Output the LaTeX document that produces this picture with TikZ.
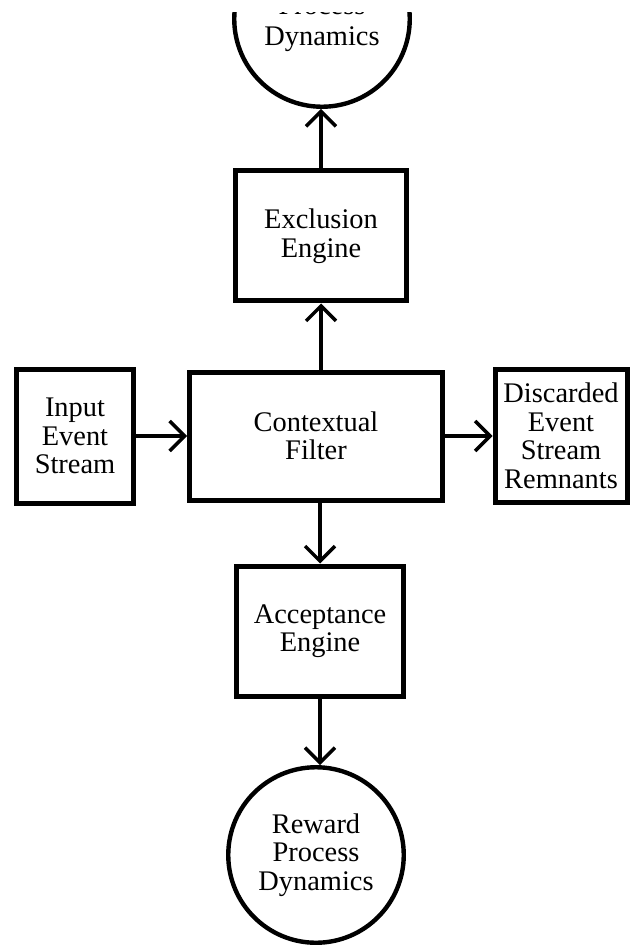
\documentclass[tikz,border=0pt]{standalone}
\usepackage{fontspec}
\setmainfont{Liberation Serif}
\usetikzlibrary{arrows.meta}

\begin{document}
\begin{tikzpicture}[x=0.5pt,y=-0.5pt,
	>={Straight Barb[length=7.5pt,width=15pt]},
	block/.style={draw,line width=2.5pt,inner sep=0pt,align=center,font=\fontsize{14.2}{14.25}\selectfont},
	proc/.style={draw,circle,line width=2.2pt,inner sep=0pt,minimum size=87.75pt,align=center,font=\fontsize{14.2}{14.25}\selectfont},
	flow/.style={->,line width=1.75pt}]
	\useasboundingbox (0,0) rectangle (632,946);
	
	\node [block,minimum width=85.5pt,minimum height=65pt](EXCL) at (321,236) {Exclusion\\Engine};
	\node [block,minimum width=126.5pt,minimum height=64pt](FILTER) at (316,436) {Contextual\\Filter};
	\node [block,minimum width=58.5pt,minimum height=67pt](INPUT) at (75,436) {Input\\Event\\Stream};
	\node [block,minimum width=66pt,minimum height=66.5pt](DISCARD) at (561,436) {Discarded\\Event\\Stream\\Remnants};
	\node [block,minimum width=83.5pt,minimum height=65pt](ACCEPT) at (320,631) {Acceptance\\Engine};
	\node [proc](REWARD) at (316,855) {Reward\\Process\\Dynamics};
	
	\begin{scope}
		\clip (0,13) rectangle (632,946);
		\node [proc](TOPPROC) at (322,19) {\mbox{}\\Process\\[1pt]Dynamics};
	\end{scope}
	
	\draw [flow] (INPUT) -- (FILTER);
	\draw [flow] (FILTER) -- (DISCARD);
	\draw [flow] (FILTER.north -| EXCL.south) -- (EXCL.south);
	\draw [flow] (EXCL.north) -- (EXCL.north |- TOPPROC.south);
	\draw [flow] (FILTER.south -| ACCEPT.north) -- (ACCEPT.north);
	\draw [flow] (ACCEPT.south) -- (ACCEPT.south |- REWARD.north);
	
\end{tikzpicture}
\end{document}
